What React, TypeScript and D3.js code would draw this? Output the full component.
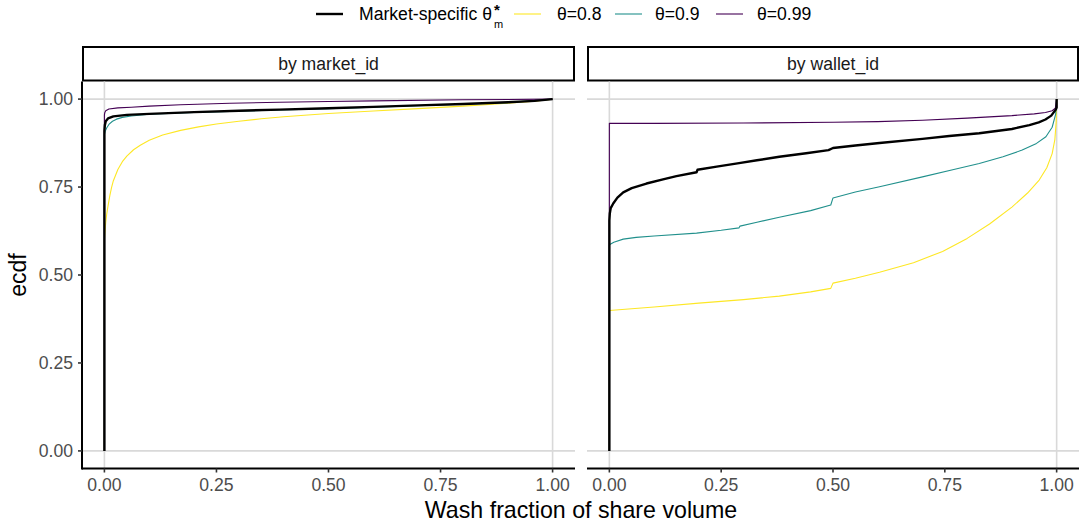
import React from 'react';
import * as d3 from 'd3';

type P = [number, number];

const W = 1081;
const H = 525;

const panelLabels = ['by market_id', 'by wallet_id'];
const legendLabels = ['θ=0.8', 'θ=0.9', 'θ=0.99'];
const seriesColors = ['#FDE725', '#21908C', '#440154'];
const xTicks = [0, 0.25, 0.5, 0.75, 1];
const yTicks = [0, 0.25, 0.5, 0.75, 1];
const gridBreaks = [0, 1];

// ---- by market_id ----
const marketOptimal: P[] = [
  [0, 0], [0, 0.91], [0.001, 0.926], [0.003, 0.937], [0.008, 0.945], [0.02, 0.951], [0.05, 0.955],
  [0.1, 0.958], [0.2, 0.963], [0.3, 0.967], [0.39, 0.97], [0.5, 0.974], [0.6, 0.978], [0.7, 0.982],
  [0.8, 0.986], [0.9, 0.991], [0.96, 0.995], [1, 1],
];
const market08: P[] = [
  [0, 0], [0, 0.6], [0.001, 0.62], [0.003, 0.65], [0.005, 0.672], [0.008, 0.696], [0.012, 0.725],
  [0.016, 0.749], [0.02, 0.768], [0.03, 0.8], [0.04, 0.822], [0.05, 0.838], [0.065, 0.856],
  [0.08, 0.869], [0.1, 0.883], [0.13, 0.898], [0.17, 0.911], [0.21, 0.921], [0.25, 0.929],
  [0.3, 0.937], [0.35, 0.944], [0.4, 0.95], [0.5, 0.959], [0.6, 0.966], [0.7, 0.973],
  [0.8, 0.98], [0.9, 0.988], [0.96, 0.994], [1, 1],
];
const market09: P[] = [
  [0, 0], [0, 0.9], [0.002, 0.909], [0.005, 0.918], [0.01, 0.928], [0.018, 0.937], [0.027, 0.943],
  [0.04, 0.948], [0.06, 0.952], [0.1, 0.957], [0.2, 0.962], [0.39, 0.969], [0.5, 0.973],
  [0.7, 0.981], [0.9, 0.99], [1, 1],
];
const market099: P[] = [
  [0, 0], [0, 0.955], [0.001, 0.962], [0.003, 0.967], [0.01, 0.972], [0.03, 0.975], [0.06, 0.977],
  [0.1, 0.98], [0.17, 0.984], [0.28, 0.988], [0.39, 0.991], [0.5, 0.993], [0.6, 0.995],
  [0.8, 0.998], [1, 1],
];

// ---- by wallet_id ----
const walletOptimal: P[] = [
  [0, 0], [0, 0.655], [0.001, 0.675], [0.003, 0.69], [0.009, 0.704], [0.018, 0.72], [0.031, 0.735],
  [0.05, 0.747], [0.083, 0.76], [0.12, 0.772], [0.15, 0.781], [0.195, 0.792], [0.197, 0.799],
  [0.24, 0.808], [0.29, 0.818], [0.33, 0.826], [0.38, 0.836], [0.44, 0.846], [0.49, 0.855],
  [0.5, 0.861], [0.55, 0.868], [0.604, 0.875], [0.7, 0.887], [0.76, 0.895], [0.827, 0.903],
  [0.9, 0.915], [0.939, 0.926], [0.96, 0.934], [0.975, 0.942], [0.988, 0.953], [0.998, 0.97],
  [1, 0.976], [1, 1],
];
const wallet08: P[] = [
  [0, 0], [0, 0.399], [0.1, 0.409], [0.2, 0.42], [0.3, 0.43], [0.38, 0.44], [0.45, 0.452],
  [0.495, 0.462], [0.5, 0.477], [0.55, 0.491], [0.604, 0.508], [0.68, 0.535], [0.745, 0.567],
  [0.8, 0.604], [0.85, 0.645], [0.9, 0.693], [0.935, 0.733], [0.961, 0.77], [0.978, 0.805],
  [0.99, 0.845], [0.996, 0.885], [0.999, 0.935], [1, 1],
];
const wallet09: P[] = [
  [0, 0], [0, 0.586], [0.01, 0.593], [0.031, 0.602], [0.06, 0.607], [0.1, 0.611],
  [0.195, 0.619], [0.25, 0.627], [0.29, 0.634], [0.292, 0.639], [0.33, 0.65], [0.38, 0.664],
  [0.45, 0.683], [0.495, 0.699], [0.5, 0.719], [0.55, 0.736], [0.604, 0.751], [0.7, 0.779],
  [0.77, 0.8], [0.827, 0.817], [0.88, 0.836], [0.923, 0.855], [0.955, 0.874], [0.976, 0.893],
  [0.99, 0.92], [0.998, 0.958], [1, 1],
];
const wallet099: P[] = [
  [0, 0], [0, 0.931], [0.1, 0.931], [0.3, 0.932], [0.5, 0.934], [0.6, 0.936], [0.7, 0.94],
  [0.8, 0.946], [0.9, 0.953], [0.95, 0.958], [0.975, 0.962], [0.99, 0.967], [0.997, 0.974], [1, 1],
];

const panelData = [
  { label: panelLabels[0], colored: [market08, market09, market099], optimal: marketOptimal },
  { label: panelLabels[1], colored: [wallet08, wallet09, wallet099], optimal: walletOptimal },
];

const FONT = "'Liberation Sans', Arial, Helvetica, sans-serif";
const panelX: [number, number][] = [[82, 575], [587, 1079]];
const panelTop = 81.5;
const panelBottom = 468.5;
const stripTop = 47;

export default function App() {
  const y = d3.scaleLinear().domain([-0.05, 1.05]).range([panelBottom, panelTop]);
  const legendItems = [
    { x0: 316, tx: 359, color: '#000', w: 2.4 },
    { x0: 514, tx: 557, color: seriesColors[0], w: 1.1 },
    { x0: 615, tx: 655, color: seriesColors[1], w: 1.1 },
    { x0: 716, tx: 757, color: seriesColors[2], w: 1.1 },
  ];
  return (
    <svg width={W} height={H} style={{ position: 'absolute', left: 0, top: 0, background: '#fff' }} fontFamily={FONT}>
      <rect width={W} height={H} fill="#fff" />
      {/* legend */}
      {legendItems.map((it, i) => (
        <g key={i}>
          <line x1={it.x0} x2={it.x0 + 27} y1={14} y2={14} stroke={it.color} strokeWidth={it.w} />
          {i === 0 ? (
            <g>
              <text x={it.tx} y={20} fontSize={17.6} fill="#000">Market-specific θ</text>
              <text x={494} y={15} fontSize={15} fontWeight="bold" fill="#000">*</text>
              <text x={494} y={28} fontSize={11} fill="#000">m</text>
            </g>
          ) : (
            <text x={it.tx} y={20} fontSize={17.6} fill="#000">{legendLabels[i - 1]}</text>
          )}
        </g>
      ))}
      {panelData.map((pd, pi) => {
        const [xa, xb] = panelX[pi];
        const x = d3.scaleLinear().domain([-0.05, 1.05]).range([xa, xb]);
        const line = d3.line<P>().x((d) => x(d[0])).y((d) => y(d[1])).curve(d3.curveLinear);
        return (
          <g key={pi}>
            {/* strip */}
            <rect x={xa + 1} y={stripTop} width={xb - xa - 2} height={panelTop - stripTop - 1} fill="#fff" stroke="#000" strokeWidth={2} />
            <text x={(xa + xb) / 2} y={70} textAnchor="middle" fontSize={17.6} fill="#1a1a1a">{pd.label}</text>
            {/* grid */}
            {gridBreaks.map((g) => (
              <line key={'gx' + g} x1={x(g)} x2={x(g)} y1={panelTop} y2={panelBottom} stroke="#d9d9d9" strokeWidth={1.6} />
            ))}
            {gridBreaks.map((g) => (
              <line key={'gy' + g} x1={xa} x2={xb} y1={y(g)} y2={y(g)} stroke="#d9d9d9" strokeWidth={1.6} />
            ))}
            {/* series */}
            {pd.colored.map((s, si) => (
              <path key={si} d={line(s) || ''} fill="none" stroke={seriesColors[si]} strokeWidth={1.1} strokeLinejoin="round" />
            ))}
            <path d={line(pd.optimal) || ''} fill="none" stroke="#000" strokeWidth={2.4} strokeLinejoin="round" />
            {/* axes */}
            <line x1={xa} x2={xb} y1={panelBottom} y2={panelBottom} stroke="#000" strokeWidth={2} />
            {xTicks.map((t) => (
              <g key={'xt' + t}>
                <line x1={x(t)} x2={x(t)} y1={panelBottom} y2={panelBottom + 4} stroke="#333" strokeWidth={1.6} />
                <text x={x(t)} y={491} textAnchor="middle" fontSize={17.6} fill="#4d4d4d">{t.toFixed(2)}</text>
              </g>
            ))}
            {pi === 0 && (
              <g>
                <line x1={xa} x2={xa} y1={panelTop} y2={panelBottom + 1} stroke="#000" strokeWidth={2} />
                {yTicks.map((t) => (
                  <g key={'yt' + t}>
                    <line x1={xa - 4} x2={xa} y1={y(t)} y2={y(t)} stroke="#333" strokeWidth={1.6} />
                    <text x={73} y={y(t) + 6.3} textAnchor="end" fontSize={17.6} fill="#4d4d4d">{t.toFixed(2)}</text>
                  </g>
                ))}
              </g>
            )}
          </g>
        );
      })}
      <text x={581} y={518} textAnchor="middle" fontSize={23.2} fill="#000">Wash fraction of share volume</text>
      <text transform={`translate(26,${(panelTop + panelBottom) / 2}) rotate(-90)`} textAnchor="middle" fontSize={23} fill="#000">ecdf</text>
    </svg>
  );
}
